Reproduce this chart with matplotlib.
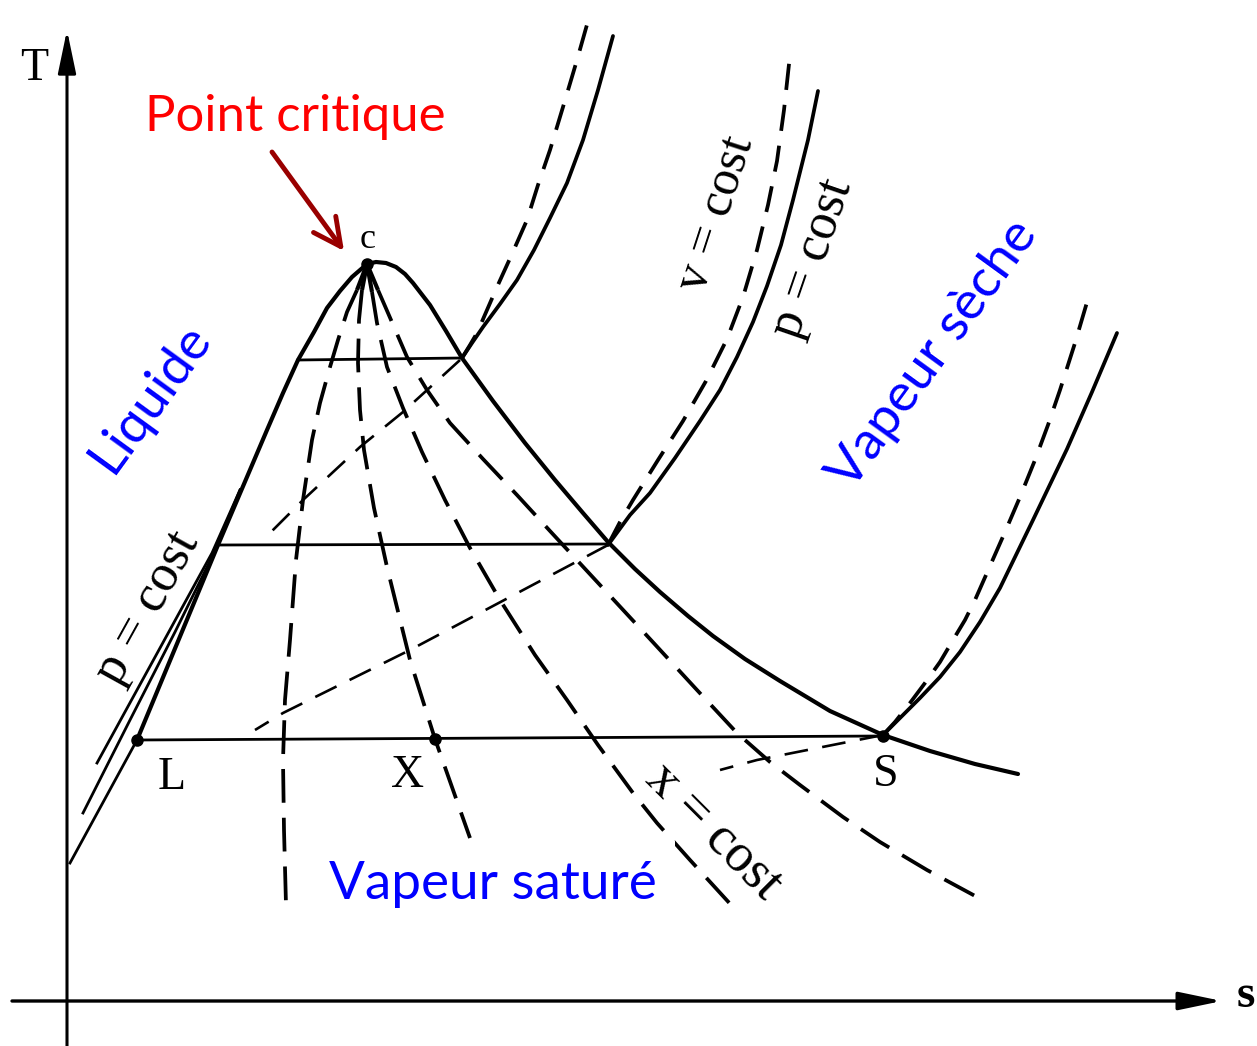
import matplotlib
matplotlib.use("Agg")
import matplotlib.pyplot as plt
from matplotlib.patches import Rectangle

# ---------------- data (schematic s / T coordinates) ----------------
# saturation dome (liquid branch -> critical point -> vapour branch)
dome_s = [137, 218, 267, 283, 298, 314, 327, 340, 352, 367, 376, 386, 396, 405, 413, 430, 446, 462,
          493, 525, 555, 583, 608, 635, 660, 688, 713, 745, 780, 830, 883, 930, 975, 1018]
dome_T = [740, 545, 430, 393, 360, 332, 308, 291, 277, 264, 262, 263, 267, 274, 283, 305, 331, 358,
          401, 443, 480, 513, 542, 569, 592, 616, 636, 659, 681, 711, 735, 751, 764, 774]
# liquid branch below L
liq_s = [70, 137]
liq_T = [863, 740]
# liquid isobars (p = cost)
pliq1_s = [97, 160, 212, 240]
pliq1_T = [763, 648, 553, 490]
pliq2_s = [83, 130, 175, 214, 240]
pliq2_T = [813, 720, 632, 553, 490]
# horizontal isobars / isotherms in the wet region
plat_T_left = [360, 545, 740]
plat_T_right = [358, 544, 736]
plat_s_left = [298, 218, 137]
plat_s_right = [462, 608, 883]
# constant-quality lines (x = cost) from the critical point
x1_s = [367, 357, 347, 338, 330, 320, 312, 303, 296, 290, 285, 283, 284, 286]
x1_T = [264, 290, 312, 340, 367, 403, 440, 500, 560, 640, 700, 760, 830, 905]
x2_s = [367, 362, 359, 358, 360, 364, 374, 387, 410, 435, 470]
x2_T = [264, 290, 320, 363, 410, 450, 508, 567, 660, 739, 838]
x3_s = [367, 372, 377, 387, 403, 422, 445, 470, 500, 535, 567, 598, 633, 657, 690, 733]
x3_T = [264, 292, 323, 367, 408, 452, 500, 548, 600, 655, 700, 745, 793, 823, 860, 907]
x4_s = [367, 378, 388, 407, 427, 450, 483, 517, 550, 600, 650, 697, 737, 770, 800, 843, 880, 927, 977]
x4_T = [264, 290, 313, 357, 390, 423, 459, 495, 531, 585, 639, 690, 733, 762, 785, 817, 842, 870, 897]
# isochores inside the dome
vw1_s = [460, 403, 360, 303, 268]
vw1_T = [360, 412, 447, 500, 535]
vw2_s = [608, 410, 283, 255]
vw2_T = [545, 650, 713, 730]
vw3_s = [883, 757, 720]
vw3_T = [735, 760, 770]
# superheated vapour: isobars (solid) and isochores (dashed)
p1_s = [462, 472, 483, 500, 517, 534, 550, 567, 583, 598, 613]
p1_T = [358, 343, 327, 304, 280, 250, 218, 183, 140, 90, 36]
v1_s = [462, 470, 477, 487, 497, 512, 527, 538, 550, 563, 577, 590]
v1_T = [358, 345, 333, 310, 287, 254, 220, 185, 150, 107, 60, 14]
p2_s = [608, 630, 650, 675, 700, 720, 737, 753, 767, 781, 793, 808, 818]
p2_T = [545, 515, 493, 458, 421, 390, 357, 322, 286, 245, 200, 140, 91]
v2_s = [608, 620, 633, 658, 683, 706, 727, 743, 757, 768, 777, 784, 790]
v2_T = [545, 522, 500, 460, 421, 381, 339, 297, 250, 205, 161, 110, 55]
p3_s = [883, 900, 920, 940, 960, 980, 1000, 1033, 1067, 1092, 1117]
p3_T = [735, 718, 698, 677, 652, 622, 588, 520, 449, 392, 333]
v3_s = [883, 895, 910, 925, 940, 953, 965, 975, 990, 1005, 1020, 1035, 1048, 1060, 1075, 1090]
v3_T = [735, 722, 703, 683, 662, 640, 620, 600, 566, 532, 497, 460, 425, 390, 343, 292]
# marked points
pt_names = ["C", "L", "X", "S"]
pt_s = [367, 137, 435, 883]
pt_T = [264, 740, 739, 736]

# ---------------- figure ----------------
fig = plt.figure(figsize=(12.57, 10.46), dpi=100)
ax = fig.add_axes([0, 0, 1, 1])
ax.set_xlim(0, 1257)
ax.set_ylim(1046, 0)
ax.axis("off")
r = fig.canvas.get_renderer()

K = "black"
LW_MAIN = 2.7
DASH = (7, 4)

# axes with arrows
ax.annotate("", xy=(67, 30), xytext=(67, 1046),
            arrowprops=dict(arrowstyle="-|>,head_length=1.2,head_width=0.25", lw=2.2,
                            color=K, mutation_scale=22, shrinkA=0, shrinkB=0))
ax.annotate("", xy=(1222, 1001), xytext=(12, 1001),
            arrowprops=dict(arrowstyle="-|>,head_length=1.2,head_width=0.25", lw=2.4,
                            color=K, mutation_scale=22, shrinkA=0, shrinkB=0))

# dome
ax.plot(dome_s, dome_T, color=K, lw=3.0, solid_joinstyle="round", solid_capstyle="round")
ax.plot(liq_s, liq_T, color=K, lw=2.0)
ax.plot(pliq1_s, pliq1_T, color=K, lw=2.0)
ax.plot(pliq2_s, pliq2_T, color=K, lw=2.0)
for Ta, Tb, a, b in zip(plat_T_left, plat_T_right, plat_s_left, plat_s_right):
    ax.plot([a, b], [Ta, Tb], color=K, lw=2.0)

# quality lines
for xs, ts in [(x1_s, x1_T), (x2_s, x2_T), (x3_s, x3_T), (x4_s, x4_T)]:
    ax.plot(xs[:2], ts[:2], color=K, lw=3.0, solid_capstyle="butt")
    ax.plot(xs[1:], ts[1:], color=K, lw=2.7, dashes=(9, 4), dash_capstyle="butt")

# isochores in wet region
for xs, ts in [(vw1_s, vw1_T), (vw2_s, vw2_T), (vw3_s, vw3_T)]:
    ax.plot(xs, ts, color=K, lw=1.9, dashes=(9, 5.5), dash_capstyle="butt")

# superheated curves
for xs, ts in [(p1_s, p1_T), (p2_s, p2_T), (p3_s, p3_T)]:
    ax.plot(xs, ts, color=K, lw=LW_MAIN, solid_joinstyle="round", solid_capstyle="round")
for xs, ts in [(v1_s, v1_T), (v2_s, v2_T), (v3_s, v3_T)]:
    ax.plot(xs, ts, color=K, lw=LW_MAIN, dashes=DASH, dash_capstyle="butt")

# points
ax.plot(pt_s, pt_T, "o", color=K, ms=8, ls="none", zorder=5)

# white label box covering the lines under "Vapeur saturé"
ax.add_patch(Rectangle((310, 841), 365, 78, facecolor="white", edgecolor="none", zorder=6))


def fit_text(x, y, s, target, rot, color, family, va="center", **kw):
    t = ax.text(x, y, s, fontsize=30, family=family, color=color, ha="center", va=va,
                rotation=0, rotation_mode="anchor", zorder=7, **kw)
    bb = t.get_window_extent(renderer=r)
    t.set_fontsize(30 * target / bb.width)
    t.set_rotation(rot)
    return t


SANS = "Lato"
SERIF = "Liberation Serif"
BLUE = "#0000ff"

fit_text(295, 131, "Point critique", 300, 0, "#ff0000", SANS, va="baseline")
fit_text(493, 899, "Vapeur saturé", 327, 0, BLUE, SANS, va="baseline")
fit_text(150, 398, "Liquide", 170, 54, BLUE, SANS)
fit_text(933, 355, "Vapeur sèche", 318, 54, BLUE, SANS)

fit_text(147, 608, "p = cost", 166, 61, K, SERIF)
fit_text(716, 214, "v = cost", 160, 72, K, SERIF)
fit_text(812, 258, "p = cost", 164, 71, K, SERIF)
fit_text(714, 831, "x = cost", 170, -45, K, SERIF)

# critical point arrow
ax.annotate("", xy=(344, 251), xytext=(272, 152),
            arrowprops=dict(arrowstyle="->,head_length=0.9,head_width=0.45", lw=3.5,
                            color="#990000", mutation_scale=22, shrinkA=0, shrinkB=0))

# letters
for s, x, y, fs in [("c", 368, 240, 26), ("L", 172, 778, 33), ("X", 408, 776, 33),
                    ("S", 886, 775, 33), ("T", 34, 69, 33)]:
    ax.text(x, y, s, fontsize=fs, family=SERIF, color=K, ha="center", va="center")
ax.text(1246, 1007, "s", fontsize=34, family=SERIF, color=K, ha="center", va="baseline",
        fontweight="bold")

fig.savefig("out.png", dpi=100, facecolor="white")
